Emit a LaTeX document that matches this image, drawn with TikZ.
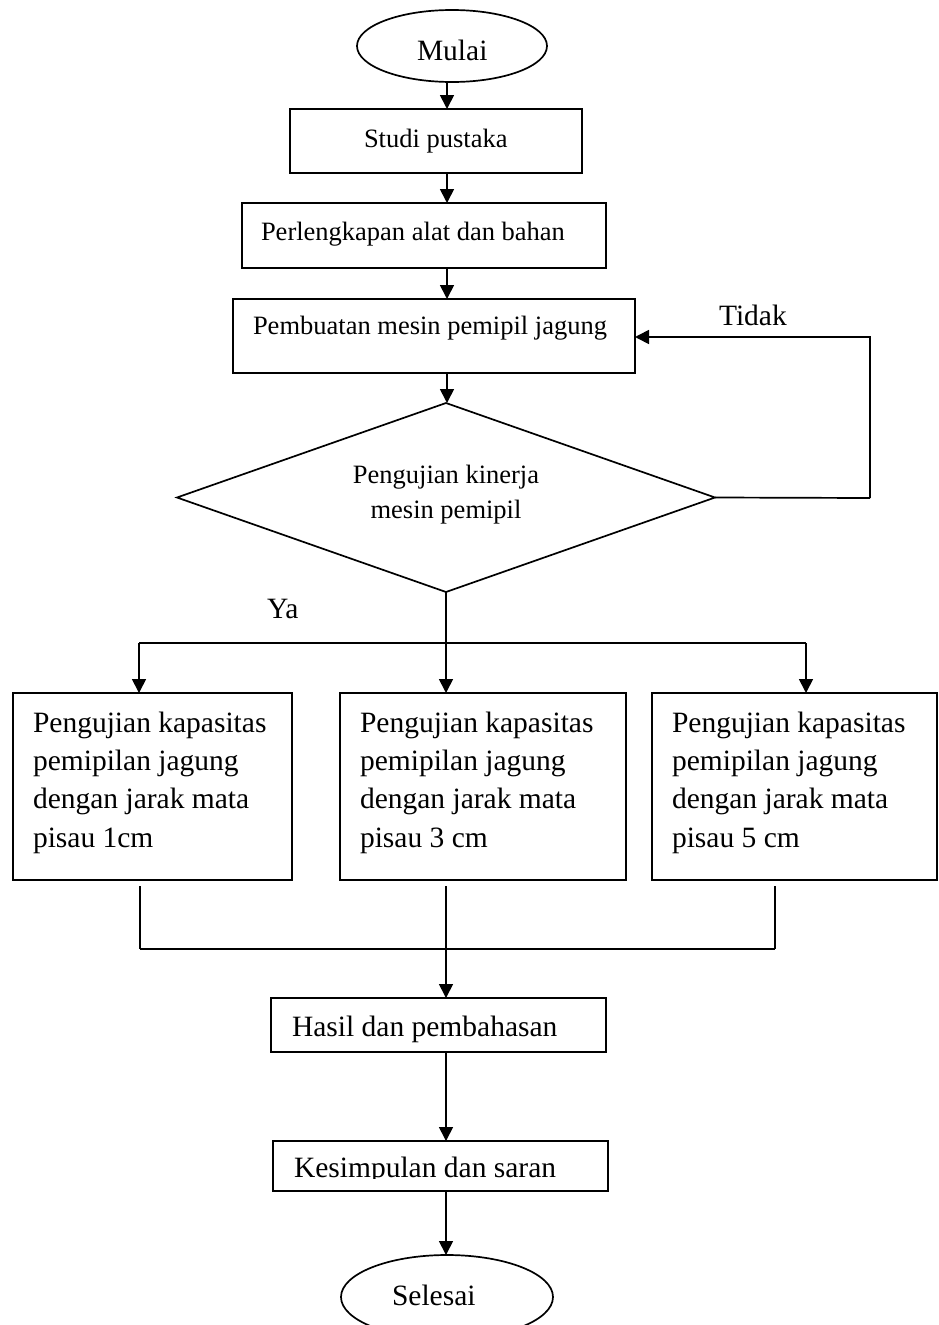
\documentclass[tikz,border=0pt]{standalone}
\usepackage{fontspec}
\setmainfont{Liberation Serif}
\usetikzlibrary{shapes.geometric,arrows.meta,calc}
\tikzset{
 shp/.style={draw=black, line width=1.7pt, inner sep=0pt, outer sep=0pt},
 box/.style={shp, rectangle},
 oval/.style={shp, ellipse},
 dec/.style={shp, diamond},
 lbl/.style={inner sep=0pt, outer sep=0pt, anchor=base west},
 bigt/.style={font=\fontsize{29.5}{38.3}\selectfont},
 smt/.style={font=\fontsize{26.5}{35}\selectfont},
 arr/.style={line width=1.7pt, -{Triangle[length=14pt,width=14pt]}},
 ln/.style={line width=1.7pt},
}
\begin{document}
\begin{tikzpicture}[x=1pt,y=-1pt]
\useasboundingbox (0,0) rectangle (938,1325);
\fill[white] (0,0) rectangle (938,1325);
\coordinate (sp) at (447,0);

% shapes
\node[oval, minimum width=190pt, minimum height=72pt] (mulai) at (452,46) {};
\node[box, minimum width=292pt, minimum height=64pt] (studi) at (436,141) {};
\node[box, minimum width=364pt, minimum height=65pt] (perl) at (424,235.5) {};
\node[box, minimum width=402pt, minimum height=74pt] (pemb) at (434,336) {};
\node[dec, minimum width=538pt, minimum height=189pt] (dia) at (446,497.5) {};
\node[box, minimum width=279pt, minimum height=187pt] (b1) at (152.5,786.5) {};
\node[box, minimum width=286pt, minimum height=187pt] (b2) at (483,786.5) {};
\node[box, minimum width=285pt, minimum height=187pt] (b3) at (794.5,786.5) {};
\node[box, minimum width=335pt, minimum height=54pt] (hasil) at (438.5,1025) {};
\node[box, minimum width=335pt, minimum height=50pt] (kes) at (440.5,1166) {};
\node[oval, minimum width=212pt, minimum height=84pt] (selesai) at (447,1297) {};

% texts
\node[lbl, bigt] (tmulai) at (417,60) {Mulai};
\node[lbl, smt] (tstudi) at (364,147) {Studi pustaka};
\node[lbl, smt] (tperl) at (261,240) {Perlengkapan alat dan bahan};
\node[lbl, smt] (tpemb) at (253,334) {Pembuatan mesin pemipil jagung};
\node[smt, inner sep=0pt, anchor=base, align=center] (tdia) at (446,518) {Pengujian kinerja\\mesin pemipil};
\node[lbl, bigt] (ttidak) at (719,325) {Tidak};
\node[lbl, bigt] (tya) at (267,618) {Ya};
\node[lbl, bigt, align=left] (t1) at (33,847) {Pengujian kapasitas\\pemipilan jagung\\dengan jarak mata\\pisau 1cm};
\node[lbl, bigt, align=left] (t2) at (360,847) {Pengujian kapasitas\\pemipilan jagung\\dengan jarak mata\\pisau 3 cm};
\node[lbl, bigt, align=left] (t3) at (672,847) {Pengujian kapasitas\\pemipilan jagung\\dengan jarak mata\\pisau 5 cm};
\node[lbl, bigt] (thasil) at (292,1036) {Hasil dan pembahasan};
\begin{scope}
\clip (273,1141) rectangle (608,1178.5);
\node[lbl, bigt] (tkes) at (294,1177.5) {Kesimpulan dan saran};
\end{scope}
\node[lbl, bigt] (tsel) at (392,1305) {Selesai};

% connectors
\draw[arr] (mulai.south -| sp) -- (studi.north -| sp);
\draw[arr] (studi.south -| sp) -- (perl.north -| sp);
\draw[arr] (perl.south -| sp) -- (pemb.north -| sp);
\draw[arr] (pemb.south -| sp) -- (dia.north -| sp);
\coordinate (fb) at (870,498);
\draw[ln] (dia.east) -- (fb);
\draw[arr] (fb) -- (fb |- 0,337) -- (pemb.east |- 0,337);
\draw[arr] (dia.south) -- (dia.south |- b2.north);
\coordinate (brl) at (139,643);
\coordinate (brr) at (806,643);
\draw[ln] (brl) -- (brr);
\draw[arr] (brl) -- (b1.north -| brl);
\draw[arr] (brr) -- (b3.north -| brr);
\coordinate (jl) at (140,949);
\coordinate (jm) at (446,949);
\coordinate (jr) at (775,949);
\draw[line width=1.2pt] (jl |- 0,886) -- (jl);
\draw[line width=2.6pt] (jm |- 0,886) -- (jm);
\draw[ln] (jr |- 0,886) -- (jr);
\draw[ln] (jl) -- (jr);
\draw[arr] (jm) -- (hasil.north -| jm);
\draw[arr] (hasil.south -| jm) -- (kes.north -| jm);
\draw[arr] (kes.south -| jm) -- (selesai.north -| jm);
\end{tikzpicture}
\end{document}
